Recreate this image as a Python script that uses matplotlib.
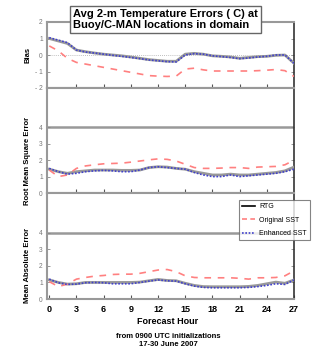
import matplotlib
matplotlib.use("Agg")
import matplotlib.pyplot as plt
from matplotlib.lines import Line2D

plt.rcParams['font.family'] = ['Liberation Sans', 'DejaVu Sans']

hours = list(range(28))

# Bias
rtg_bias = [1.0, 0.85, 0.7, 0.3, 0.2, 0.12, 0.05, 0.0, -0.05, -0.12, -0.2, -0.28, -0.33, -0.38,
            -0.38, 0.05, 0.1, 0.05, -0.05, -0.08, -0.12, -0.2, -0.15, -0.1, -0.08, -0.02, 0.0, -0.5]
orig_bias = [0.55, 0.25, -0.2, -0.45, -0.55, -0.65, -0.75, -0.85, -0.95, -1.05, -1.15, -1.25, -1.28, -1.3,
             -1.28, -0.85, -0.8, -0.9, -0.97, -0.97, -0.97, -0.97, -0.97, -0.95, -0.92, -0.88, -0.95, -1.3]
enh_bias = [1.05, 0.9, 0.75, 0.3, 0.18, 0.12, 0.05, -0.02, -0.08, -0.15, -0.22, -0.3, -0.35, -0.4,
            -0.42, 0.0, 0.08, 0.05, -0.05, -0.1, -0.15, -0.22, -0.18, -0.12, -0.08, 0.0, 0.0, -0.5]

# RMSE
rtg_rmse = [1.45, 1.3, 1.2, 1.3, 1.35, 1.4, 1.4, 1.4, 1.38, 1.38, 1.4, 1.55, 1.6, 1.58,
            1.5, 1.45, 1.3, 1.2, 1.1, 1.1, 1.15, 1.1, 1.1, 1.15, 1.2, 1.25, 1.35, 1.58]
orig_rmse = [1.4, 1.0, 1.1, 1.5, 1.65, 1.72, 1.78, 1.8, 1.82, 1.88, 1.95, 2.02, 2.08, 2.05,
             1.95, 1.75, 1.55, 1.5, 1.5, 1.52, 1.55, 1.55, 1.5, 1.58, 1.6, 1.62, 1.72, 2.0]
enh_rmse = [1.5, 1.3, 1.15, 1.2, 1.3, 1.35, 1.38, 1.35, 1.3, 1.3, 1.4, 1.55, 1.6, 1.55,
            1.5, 1.45, 1.25, 1.1, 1.0, 1.0, 1.1, 1.0, 1.05, 1.1, 1.15, 1.2, 1.3, 1.45]

# MAE
rtg_mae = [1.15, 1.0, 0.9, 0.92, 1.0, 1.0, 1.0, 1.0, 1.0, 1.0, 1.02, 1.1, 1.18, 1.12,
           1.1, 0.95, 0.82, 0.75, 0.74, 0.74, 0.74, 0.74, 0.76, 0.82, 0.92, 1.02, 0.95, 1.15]
orig_mae = [1.05, 0.75, 0.9, 1.2, 1.3, 1.38, 1.42, 1.48, 1.5, 1.5, 1.55, 1.65, 1.75, 1.78,
            1.65, 1.4, 1.3, 1.28, 1.28, 1.28, 1.28, 1.25, 1.2, 1.28, 1.28, 1.3, 1.4, 1.7]
enh_mae = [1.2, 0.98, 0.88, 0.9, 0.98, 1.0, 0.98, 0.92, 0.92, 0.92, 1.0, 1.08, 1.15, 1.1,
           1.08, 0.92, 0.78, 0.7, 0.68, 0.68, 0.68, 0.68, 0.7, 0.75, 0.82, 0.92, 0.88, 1.15]

xticks = [0, 3, 6, 9, 12, 15, 18, 21, 24, 27]

W, H = 324, 347
fig = plt.figure(figsize=(W / 100, H / 100), dpi=100)

left, right = 47, 294
panels = [(22, 88), (88, 193), (193, 299)]
axes = []
for top, bot in panels:
    ax = fig.add_axes([left / W, 1 - bot / H, (right - left) / W, (bot - top) / H])
    axes.append(ax)

gray = '#999999'
red = '#ff8080'
blue = '#4040cc'

def draw(ax, rtg, orig, enh):
    ax.plot(hours, rtg, color='#999999', lw=2.0, zorder=3)
    ax.plot(hours, orig, color=red, lw=1.2, ls=(0, (4, 4)), zorder=4)
    ax.plot(hours, enh, color=blue, lw=1.2, ls=(0, (1, 1)), zorder=5)
    ax.set_xlim(-0.25, 27)
    ax.set_xticks(xticks[1:-1])
    ax.tick_params(axis='x', direction='in', length=3, width=0.8, color='#555555',
                   labelbottom=False)
    ax.tick_params(axis='y', direction='in', length=2, width=0.6, color='#888888',
                   labelsize=4.8, labelcolor='#777777', right=True, pad=3)
    for s in ['left', 'top', 'bottom']:
        ax.spines[s].set_color(gray)
        ax.spines[s].set_linewidth(1.5)
    ax.spines['right'].set_color('#333333')
    ax.spines['right'].set_linewidth(1.2)

ax1, ax2, ax3 = axes
draw(ax1, rtg_bias, orig_bias, enh_bias)
ax1.set_ylim(-2, 2)
ax1.set_yticks([-2, -1, 0, 1, 2])
ax1.set_yticklabels(['- 2', '- 1', '0', '1', '2'])
ax1.axhline(0, color='#aaaaaa', lw=0.6, ls=(0, (1, 1.5)), zorder=1)

for ax, rtg, orig, enh in [(ax2, rtg_rmse, orig_rmse, enh_rmse), (ax3, rtg_mae, orig_mae, enh_mae)]:
    draw(ax, rtg, orig, enh)
    ax.set_ylim(0, 6.4)
    ax.set_yticks([0, 1, 2, 3, 4])
    ax.axhline(4, color=gray, lw=1.8, zorder=1)

ax3.set_xticks(xticks)
ax3.tick_params(axis='x', labelbottom=True, labelsize=6.5, pad=4)
for lab in ax3.get_xticklabels():
    lab.set_fontweight('bold')

# y labels
fig.text(28 / W, 1 - 55 / H, 'Bias', rotation=90, ha='center', va='center',
         fontsize=5.5, fontweight='bold')
fig.text(28 / W, 1 - 161 / H, 'Root Mean Square Error', rotation=90, ha='center', va='center',
         fontsize=5.5, fontweight='bold')
fig.text(28 / W, 1 - 265 / H, 'Mean Absolute Error', rotation=90, ha='center', va='center',
         fontsize=5.5, fontweight='bold')

fig.text(168 / W, 1 - 321 / H, 'Forecast Hour', ha='center', va='center',
         fontsize=6.5, fontweight='bold')
fig.text(168 / W, 1 - 336 / H, 'from 0900 UTC initializations', ha='center', va='center',
         fontsize=5.5, fontweight='bold')
fig.text(168 / W, 1 - 345 / H, '17-30 June 2007', ha='center', va='center',
         fontsize=5.5, fontweight='bold')

# title box
fig.text(73 / W, 1 - 19.5 / H, 'Avg 2-m Temperature Errors ( C) at\nBuoy/C-MAN locations in domain',
         ha='left', va='center', fontsize=8, fontweight='bold', linespacing=1.1,
         bbox=dict(boxstyle='square,pad=0.3', facecolor='white', edgecolor='#666666', lw=1.0),
         zorder=10)

# legend
handles = [Line2D([], [], color='black', lw=1.2),
           Line2D([], [], color=red, lw=1.2, ls=(0, (3, 2))),
           Line2D([], [], color=blue, lw=1.2, ls=(0, (1, 1)))]
leg = fig.legend(handles, ['RTG', 'Original SST', 'Enhanced SST'],
                 loc='upper left', bbox_to_anchor=(239 / W, 1 - 200 / H),
                 fontsize=5, frameon=True, fancybox=False, edgecolor='#666666',
                 handlelength=1.8, handletextpad=0.6, borderpad=0.5, labelspacing=0.9,
                 borderaxespad=0)
leg.get_frame().set_linewidth(0.8)

fig.savefig('out.png', dpi=100)
